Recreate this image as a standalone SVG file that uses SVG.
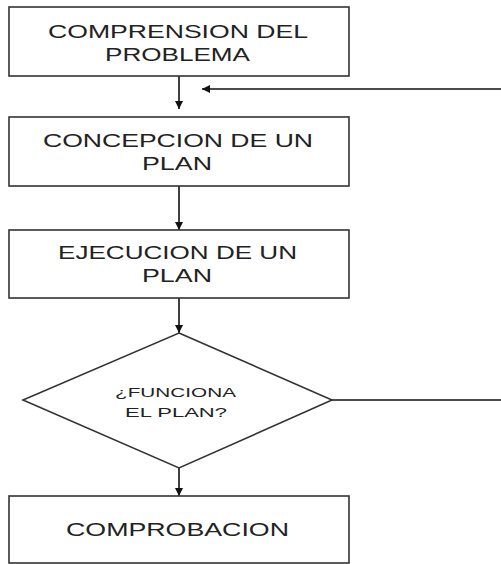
<svg xmlns="http://www.w3.org/2000/svg" width="501" height="564" viewBox="0 0 501 564">
<style>
.box{fill:#fff;stroke:#333;stroke-width:1.6}
.t{font-family:"Liberation Sans","Open Sans",sans-serif;font-size:18.5px;fill:#222}
.ts{font-family:"Liberation Sans","Open Sans",sans-serif;font-size:13px;fill:#222}
.c{fill:none;stroke:#111;stroke-width:1.6}
</style>
<defs>
<marker id="ah" viewBox="0 0 10 10" refX="10" refY="5" markerWidth="8" markerHeight="8" markerUnits="userSpaceOnUse" orient="auto">
<path d="M0,0 L10,5 L0,10 Z" fill="#111"/>
</marker>
</defs>
<rect width="501" height="564" fill="#fff"/>
<g id="connectors">
<line class="c" x1="179" y1="76" x2="179" y2="109" marker-end="url(#ah)"/>
<line class="c" x1="179" y1="186" x2="179" y2="230" marker-end="url(#ah)"/>
<line class="c" x1="179" y1="298" x2="179" y2="333" marker-end="url(#ah)"/>
<line class="c" x1="179" y1="468" x2="179" y2="496" marker-end="url(#ah)"/>
<path class="c" d="M332,400 H506 V89 H202" marker-end="url(#ah)"/>
</g>
<g id="n1">
<rect class="box" x="9" y="7" width="340" height="69"/>
<text class="t" x="48" y="38" textLength="260" lengthAdjust="spacingAndGlyphs">COMPRENSION DEL</text>
<text class="t" x="105" y="61" textLength="145" lengthAdjust="spacingAndGlyphs">PROBLEMA</text>
</g>
<g id="n2">
<rect class="box" x="9" y="117" width="340" height="69"/>
<text class="t" x="43" y="147" textLength="270" lengthAdjust="spacingAndGlyphs">CONCEPCION DE UN</text>
<text class="t" x="142" y="170" textLength="70" lengthAdjust="spacingAndGlyphs">PLAN</text>
</g>
<g id="n3">
<rect class="box" x="9" y="230" width="340" height="68"/>
<text class="t" x="58" y="259" textLength="239" lengthAdjust="spacingAndGlyphs">EJECUCION DE UN</text>
<text class="t" x="142" y="282" textLength="70" lengthAdjust="spacingAndGlyphs">PLAN</text>
</g>
<g id="n4">
<polygon class="box" points="179,333 332,400 179,468 23,400"/>
<text class="ts" x="115" y="397" textLength="121" lengthAdjust="spacingAndGlyphs">¿FUNCIONA</text>
<text class="ts" x="125" y="417" textLength="102" lengthAdjust="spacingAndGlyphs">EL PLAN?</text>
</g>
<g id="n5">
<rect class="box" x="9" y="496" width="340" height="67"/>
<text class="t" x="66" y="536" textLength="223" lengthAdjust="spacingAndGlyphs">COMPROBACION</text>
</g>
</svg>
